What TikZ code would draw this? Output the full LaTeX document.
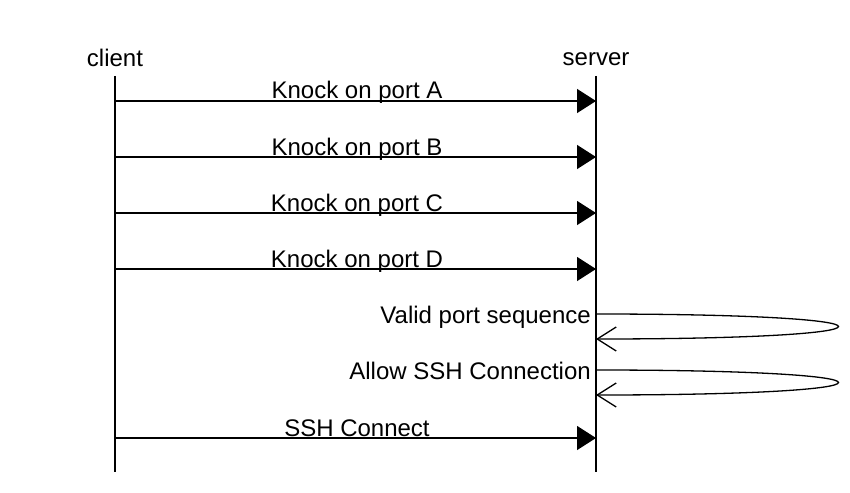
\documentclass[tikz,border=0pt]{standalone}
\usepackage{fontspec}
\setmainfont{Liberation Sans}
\usetikzlibrary{arrows.meta}
\begin{document}
\begin{tikzpicture}[x=1pt,y=-1pt,
  lifeline/.style={line width=1.3pt},
  msg/.style={line width=1.3pt,-{Triangle[length=19pt,width=24pt]}},
  selfmsg/.style={line width=1.3pt,-{Straight Barb[length=19pt,width=24pt]}},
  lbl/.style={inner sep=0pt,font=\fontsize{24}{28}\selectfont},
]
\useasboundingbox (0,0) rectangle (850,492);
% lifeline heads
\node[lbl,anchor=base] (client) at (115,66.5) {client};
\node[lbl,anchor=base] (server) at (596,65.5) {server};
\coordinate (ctop) at (115,76);
\coordinate (cbot) at (115,472);
\coordinate (stop) at (596,76);
\coordinate (sbot) at (596,472);
\draw[lifeline] (ctop) -- (cbot);
\draw[lifeline] (stop) -- (sbot);
% messages
\foreach \y/\t [count=\i] in {101/A,157/B,213/C,269/D}{
  \coordinate (c\i) at (115,\y);
  \coordinate (s\i) at (596,\y);
  \draw[msg] (c\i) -- (s\i);
  \node[lbl,anchor=base] (k\i) at (357,\y-2) {Knock on port \t};
}
% self messages
\coordinate (v1) at (596,314);
\coordinate (v2) at (596,339);
\draw[selfmsg] (v1) .. controls (919,314) and (919,339) .. (v2);
\node[lbl,anchor=base east] (vl) at (591,323.5) {Valid port sequence};
\coordinate (a1) at (596,370);
\coordinate (a2) at (596,395);
\draw[selfmsg] (a1) .. controls (919,370) and (919,395) .. (a2);
\node[lbl,anchor=base east] (al) at (591,379.5) {Allow SSH Connection};
% ssh connect
\coordinate (c5) at (115,438);
\coordinate (s5) at (596,438);
\draw[msg] (c5) -- (s5);
\node[lbl,anchor=base] (ssh) at (357,436) {SSH Connect};
\end{tikzpicture}
\end{document}
